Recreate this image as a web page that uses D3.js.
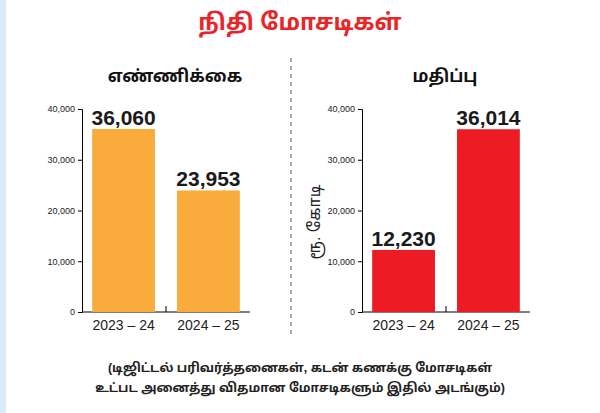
<!DOCTYPE html>
<html>
<head>
<meta charset="utf-8">
<script src="https://cdn.jsdelivr.net/npm/d3@7"></script>
<style>
body { margin: 0; background: #fff; }
text { font-family: "Liberation Sans", Arial, "Noto Sans Tamil", sans-serif; }
</style>
</head>
<body>
<div id="chart"></div>
<script>
// data
var years = ['2023 – 24', '2024 – 25'];
var countValues = [36060, 23953];
var amountValues = [12230, 36014];
var tickValues = [0, 10000, 20000, 30000, 40000];

var svg = d3.select('#chart').append('svg')
    .attr('width', 600).attr('height', 413);

// light blue strip at left edge
svg.append('rect').attr('x', 0).attr('y', 0).attr('width', 6).attr('height', 413).attr('fill', '#dde9f5');

svg.append('text').text('நிதி மோசடிகள்')
    .attr('x', 300).attr('y', 30).attr('text-anchor', 'middle')
    .attr('font-size', 23).attr('font-weight', 'bold').attr('fill', '#e8262a');

svg.append('line')
    .attr('x1', 291).attr('x2', 291).attr('y1', 58).attr('y2', 335)
    .attr('stroke', '#555').attr('stroke-dasharray', '4,4');

var y = d3.scaleLinear().domain([0, 40000]).range([312, 109]);

function panel(x0, values, color, title, titleX) {
    var x = d3.scaleBand().domain(years).range([x0, x0 + 168])
        .paddingInner(0.26).paddingOuter(0.12);

    svg.append('text').text(title)
        .attr('x', titleX).attr('y', 82).attr('text-anchor', 'middle')
        .attr('font-size', 17).attr('font-weight', 'bold').attr('fill', '#111');

    var ya = svg.append('g').attr('transform', 'translate(' + x0 + ',0)')
        .call(d3.axisLeft(y).tickValues(tickValues).tickSize(4).tickFormat(d3.format(',')));
    ya.selectAll('text').attr('font-size', 9).attr('fill', '#222');

    var xa = svg.append('g').attr('transform', 'translate(0,312)')
        .call(d3.axisBottom(x).tickSize(0).tickPadding(8));
    xa.select('.domain').attr('d', 'M' + x0 + ',0H' + (x0 + 168));
    xa.selectAll('text').attr('font-size', 14).attr('fill', '#222');
    // middle tick
    svg.append('line').attr('x1', x0 + 84).attr('x2', x0 + 84)
        .attr('y1', 306).attr('y2', 312).attr('stroke', '#000');

    svg.selectAll(null).data(values).enter().append('rect')
        .attr('x', function(d, i) { return x(years[i]); })
        .attr('width', x.bandwidth())
        .attr('y', function(d) { return y(d); })
        .attr('height', function(d) { return 312 - y(d); })
        .attr('fill', color);

    svg.selectAll(null).data(values).enter().append('text')
        .text(function(d) { return d3.format(',')(d); })
        .attr('x', function(d, i) { return x(years[i]) + x.bandwidth() / 2; })
        .attr('y', function(d) { return y(d) - 4; })
        .attr('text-anchor', 'middle')
        .attr('font-size', 21).attr('font-weight', 'bold').attr('fill', '#1a1a1a');
}

panel(82, countValues, '#f9ac3c', 'எண்ணிக்கை', 175);
panel(362, amountValues, '#ed1c24', 'மதிப்பு', 445);

svg.append('text').text('ரூ. கோடி')
    .attr('transform', 'translate(320,222) rotate(-90)')
    .attr('text-anchor', 'middle').attr('font-size', 16).attr('fill', '#222');

svg.append('text').text('(டிஜிட்டல் பரிவர்த்தனைகள், கடன் கணக்கு மோசடிகள்')
    .attr('x', 300).attr('y', 372).attr('text-anchor', 'middle')
    .attr('font-size', 12.5).attr('font-weight', 'bold').attr('fill', '#222');
svg.append('text').text('உட்பட அனைத்து விதமான மோசடிகளும் இதில் அடங்கும்)')
    .attr('x', 300).attr('y', 392).attr('text-anchor', 'middle')
    .attr('font-size', 12.5).attr('font-weight', 'bold').attr('fill', '#222');
</script>
</body>
</html>
